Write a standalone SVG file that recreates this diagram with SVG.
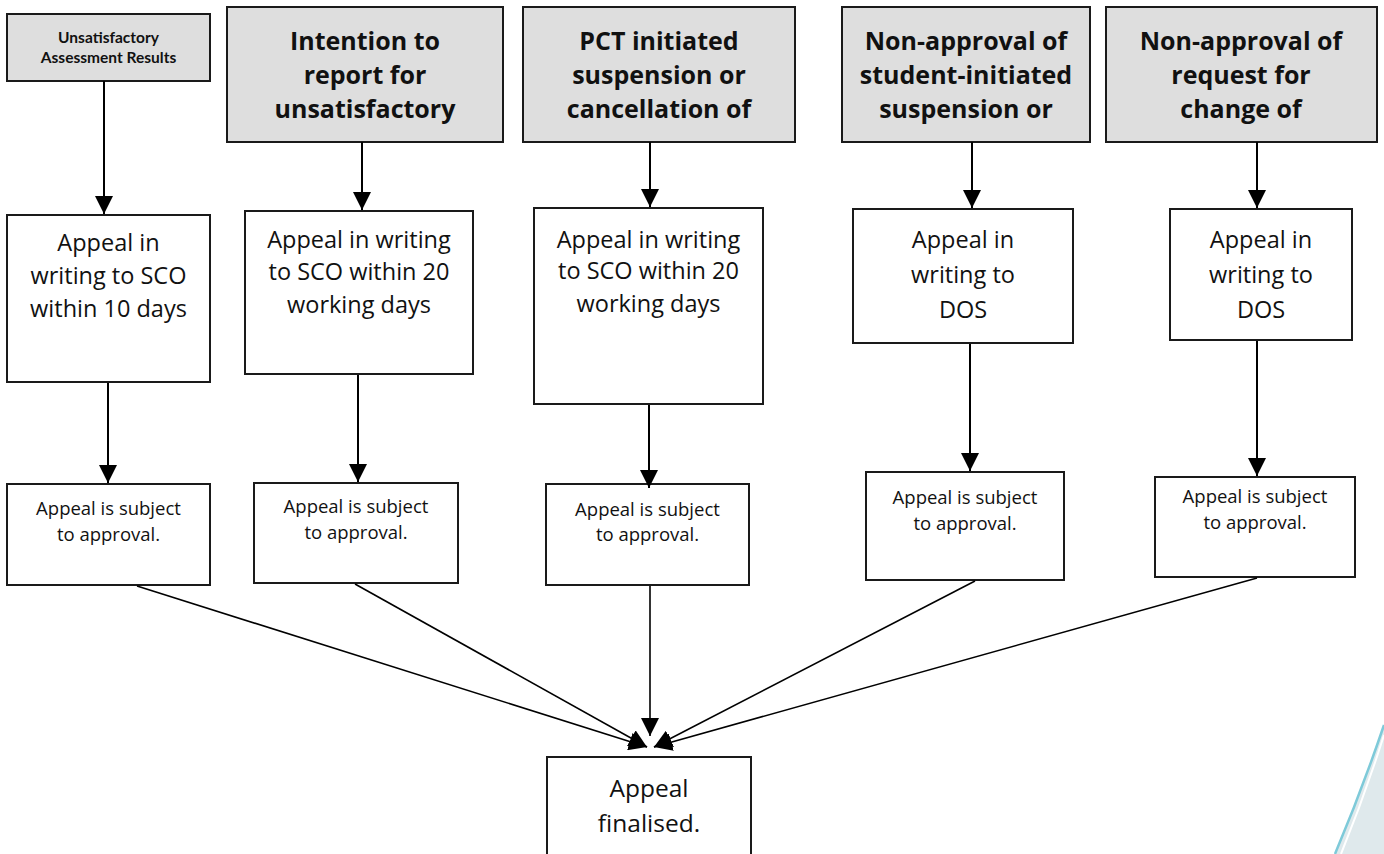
<svg xmlns="http://www.w3.org/2000/svg" width="1384" height="854" viewBox="0 0 1384 854">
<defs>
<marker id="ah" markerUnits="userSpaceOnUse" markerWidth="18" markerHeight="18" viewBox="0 0 16 16" refX="16" refY="8" orient="auto">
<path d="M0,0 L16,8 L0,16 Z" fill="#000"/>
</marker>
<style>
.hdr{fill:#dedede;stroke:#1a1a1a;stroke-width:2}
.box{fill:#fff;stroke:#1a1a1a;stroke-width:2}
.ht{font-family:"Open Sans","Liberation Sans",sans-serif;font-weight:bold;font-size:25px;fill:#111;text-anchor:middle}
.hs{font-family:Lato,"Liberation Sans",sans-serif;font-weight:bold;font-size:15.5px;fill:#111;text-anchor:middle}
.mt{font-family:"Open Sans","Liberation Sans",sans-serif;font-size:23.5px;fill:#111;text-anchor:middle}
.st{font-family:"Open Sans","Liberation Sans",sans-serif;font-size:18.5px;fill:#111;text-anchor:middle}
.ft{font-family:"Open Sans","Liberation Sans",sans-serif;font-size:24.5px;fill:#111;text-anchor:middle}
.con line{stroke:#000;stroke-width:2;fill:none}
.con line.d{stroke-width:1.6}
</style>
</defs>
<rect width="1384" height="854" fill="#fff"/>
<g id="decor">
<path d="M1384,725 Q1362,790 1335,854 L1384,854 Z" fill="#dfe9ec"/>
<path d="M1384,725 Q1362,790 1335,854" fill="none" stroke="#7ecad9" stroke-width="2.5"/>
<path d="M1384,735 Q1365,795 1341,854" fill="none" stroke="#fff" stroke-width="2"/>
</g>
<g id="h1"><rect class="hdr" x="7" y="14" width="203" height="67"/><text class="hs" x="108.5" y="43">Unsatisfactory</text><text class="hs" x="108.5" y="63">Assessment Results</text></g>
<g id="h2"><rect class="hdr" x="227" y="7" width="276" height="135"/><text class="ht" x="365" y="50">Intention to</text><text class="ht" x="365" y="84">report for</text><text class="ht" x="365" y="118">unsatisfactory</text></g>
<g id="h3"><rect class="hdr" x="523" y="7" width="272" height="135"/><text class="ht" x="659" y="50">PCT initiated</text><text class="ht" x="659" y="84">suspension or</text><text class="ht" x="659" y="118">cancellation of</text></g>
<g id="h4"><rect class="hdr" x="842" y="7" width="248" height="135"/><text class="ht" x="966" y="50">Non-approval of</text><text class="ht" x="966" y="84">student-initiated</text><text class="ht" x="966" y="118">suspension or</text></g>
<g id="h5"><rect class="hdr" x="1106" y="7" width="271" height="135"/><text class="ht" x="1241" y="50">Non-approval of</text><text class="ht" x="1241" y="84">request for</text><text class="ht" x="1241" y="118">change of</text></g>
<g id="a1"><rect class="box" x="7" y="215" width="203" height="167"/><text class="mt" x="108.5" y="251">Appeal in</text><text class="mt" x="108.5" y="284">writing to SCO</text><text class="mt" x="108.5" y="317">within 10 days</text></g>
<g id="a2"><rect class="box" x="245" y="211" width="228" height="163"/><text class="mt" x="359" y="248">Appeal in writing</text><text class="mt" x="359" y="280">to SCO within 20</text><text class="mt" x="359" y="313">working days</text></g>
<g id="a3"><rect class="box" x="534" y="208" width="229" height="196"/><text class="mt" x="648.5" y="248">Appeal in writing</text><text class="mt" x="648.5" y="279">to SCO within 20</text><text class="mt" x="648.5" y="312">working days</text></g>
<g id="a4"><rect class="box" x="853" y="209" width="220" height="134"/><text class="mt" x="963" y="248">Appeal in</text><text class="mt" x="963" y="283">writing to</text><text class="mt" x="963" y="318">DOS</text></g>
<g id="a5"><rect class="box" x="1170" y="209" width="182" height="131"/><text class="mt" x="1261" y="248">Appeal in</text><text class="mt" x="1261" y="283">writing to</text><text class="mt" x="1261" y="318">DOS</text></g>
<g id="b1"><rect class="box" x="7" y="484" width="203" height="101"/><text class="st" x="108.5" y="515">Appeal is subject</text><text class="st" x="108.5" y="541">to approval.</text></g>
<g id="b2"><rect class="box" x="254" y="483" width="204" height="100"/><text class="st" x="356" y="513">Appeal is subject</text><text class="st" x="356" y="539">to approval.</text></g>
<g id="b3"><rect class="box" x="546" y="484" width="203" height="101"/><text class="st" x="647.5" y="516">Appeal is subject</text><text class="st" x="647.5" y="541">to approval.</text></g>
<g id="b4"><rect class="box" x="866" y="472" width="198" height="108"/><text class="st" x="965" y="504">Appeal is subject</text><text class="st" x="965" y="530">to approval.</text></g>
<g id="b5"><rect class="box" x="1155" y="477" width="200" height="100"/><text class="st" x="1255" y="503">Appeal is subject</text><text class="st" x="1255" y="529">to approval.</text></g>
<g id="fin"><rect class="box" x="547" y="757" width="204" height="110"/><text class="ft" x="649" y="797">Appeal</text><text class="ft" x="649" y="832">finalised.</text></g>
<g id="connectors" class="con">
<line x1="104" y1="81" x2="104" y2="214" marker-end="url(#ah)"/>
<line x1="362" y1="142" x2="362" y2="210" marker-end="url(#ah)"/>
<line x1="650" y1="142" x2="650" y2="207" marker-end="url(#ah)"/>
<line x1="972" y1="142" x2="972" y2="208" marker-end="url(#ah)"/>
<line x1="1257" y1="142" x2="1257" y2="208" marker-end="url(#ah)"/>
<line x1="108" y1="383" x2="108" y2="483" marker-end="url(#ah)"/>
<line x1="358" y1="375" x2="358" y2="482" marker-end="url(#ah)"/>
<line x1="649" y1="405" x2="649" y2="488" marker-end="url(#ah)"/>
<line x1="970" y1="344" x2="970" y2="471" marker-end="url(#ah)"/>
<line x1="1257" y1="341" x2="1257" y2="476" marker-end="url(#ah)"/>
<line class="d" x1="137" y1="586" x2="647" y2="747" marker-end="url(#ah)"/>
<line class="d" x1="355" y1="584" x2="647" y2="747" marker-end="url(#ah)"/>
<line class="d" x1="650" y1="586" x2="650" y2="736" marker-end="url(#ah)"/>
<line class="d" x1="975" y1="581" x2="654" y2="747" marker-end="url(#ah)"/>
<line class="d" x1="1257" y1="578" x2="654" y2="747" marker-end="url(#ah)"/>
</g>
</svg>
